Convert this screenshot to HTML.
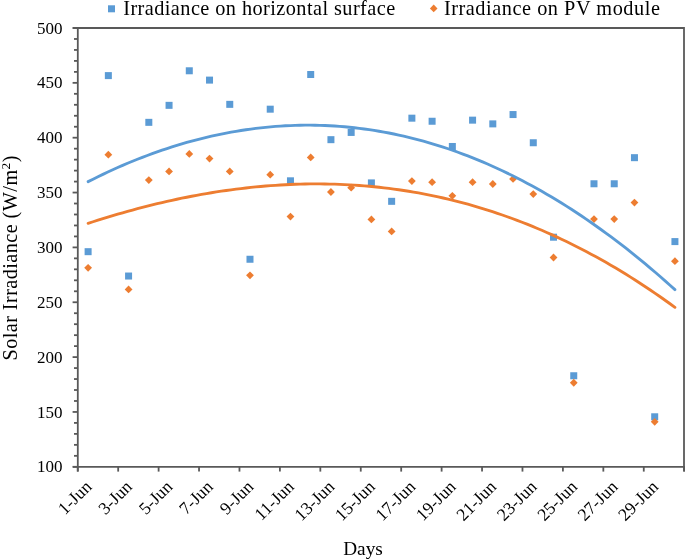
<!DOCTYPE html>
<html><head><meta charset="utf-8"><style>
html,body{margin:0;padding:0;background:#fff;}
body{width:685px;height:559px;overflow:hidden;}
svg{display:block;will-change:transform;}
.ax{stroke:#595959;stroke-width:1.8;}
text{font-family:"Liberation Serif", serif;fill:#000;}
.t16{font-size:17px;}
.t19{font-size:19.3px;}
.tl{font-size:20.3px;}
.tx{font-size:17.6px;}
</style></head><body>
<svg width="685" height="559" viewBox="0 0 685 559">
<line x1="72.60" y1="466.80" x2="77.8" y2="466.80" class="ax"/>
<line x1="74.00" y1="455.83" x2="77.8" y2="455.83" class="ax"/>
<line x1="74.00" y1="444.86" x2="77.8" y2="444.86" class="ax"/>
<line x1="74.00" y1="433.89" x2="77.8" y2="433.89" class="ax"/>
<line x1="74.00" y1="422.92" x2="77.8" y2="422.92" class="ax"/>
<line x1="72.60" y1="411.95" x2="77.8" y2="411.95" class="ax"/>
<line x1="74.00" y1="400.98" x2="77.8" y2="400.98" class="ax"/>
<line x1="74.00" y1="390.01" x2="77.8" y2="390.01" class="ax"/>
<line x1="74.00" y1="379.04" x2="77.8" y2="379.04" class="ax"/>
<line x1="74.00" y1="368.07" x2="77.8" y2="368.07" class="ax"/>
<line x1="72.60" y1="357.10" x2="77.8" y2="357.10" class="ax"/>
<line x1="74.00" y1="346.13" x2="77.8" y2="346.13" class="ax"/>
<line x1="74.00" y1="335.16" x2="77.8" y2="335.16" class="ax"/>
<line x1="74.00" y1="324.19" x2="77.8" y2="324.19" class="ax"/>
<line x1="74.00" y1="313.22" x2="77.8" y2="313.22" class="ax"/>
<line x1="72.60" y1="302.25" x2="77.8" y2="302.25" class="ax"/>
<line x1="74.00" y1="291.28" x2="77.8" y2="291.28" class="ax"/>
<line x1="74.00" y1="280.31" x2="77.8" y2="280.31" class="ax"/>
<line x1="74.00" y1="269.34" x2="77.8" y2="269.34" class="ax"/>
<line x1="74.00" y1="258.37" x2="77.8" y2="258.37" class="ax"/>
<line x1="72.60" y1="247.40" x2="77.8" y2="247.40" class="ax"/>
<line x1="74.00" y1="236.43" x2="77.8" y2="236.43" class="ax"/>
<line x1="74.00" y1="225.46" x2="77.8" y2="225.46" class="ax"/>
<line x1="74.00" y1="214.49" x2="77.8" y2="214.49" class="ax"/>
<line x1="74.00" y1="203.52" x2="77.8" y2="203.52" class="ax"/>
<line x1="72.60" y1="192.55" x2="77.8" y2="192.55" class="ax"/>
<line x1="74.00" y1="181.58" x2="77.8" y2="181.58" class="ax"/>
<line x1="74.00" y1="170.61" x2="77.8" y2="170.61" class="ax"/>
<line x1="74.00" y1="159.64" x2="77.8" y2="159.64" class="ax"/>
<line x1="74.00" y1="148.67" x2="77.8" y2="148.67" class="ax"/>
<line x1="72.60" y1="137.70" x2="77.8" y2="137.70" class="ax"/>
<line x1="74.00" y1="126.73" x2="77.8" y2="126.73" class="ax"/>
<line x1="74.00" y1="115.76" x2="77.8" y2="115.76" class="ax"/>
<line x1="74.00" y1="104.79" x2="77.8" y2="104.79" class="ax"/>
<line x1="74.00" y1="93.82" x2="77.8" y2="93.82" class="ax"/>
<line x1="72.60" y1="82.85" x2="77.8" y2="82.85" class="ax"/>
<line x1="74.00" y1="71.88" x2="77.8" y2="71.88" class="ax"/>
<line x1="74.00" y1="60.91" x2="77.8" y2="60.91" class="ax"/>
<line x1="74.00" y1="49.94" x2="77.8" y2="49.94" class="ax"/>
<line x1="74.00" y1="38.97" x2="77.8" y2="38.97" class="ax"/>
<line x1="72.60" y1="28.00" x2="77.8" y2="28.00" class="ax"/>
<line x1="77.75" y1="466.80" x2="77.75" y2="471.60" class="ax"/>
<line x1="118.18" y1="466.80" x2="118.18" y2="471.60" class="ax"/>
<line x1="158.61" y1="466.80" x2="158.61" y2="471.60" class="ax"/>
<line x1="199.04" y1="466.80" x2="199.04" y2="471.60" class="ax"/>
<line x1="239.47" y1="466.80" x2="239.47" y2="471.60" class="ax"/>
<line x1="279.90" y1="466.80" x2="279.90" y2="471.60" class="ax"/>
<line x1="320.33" y1="466.80" x2="320.33" y2="471.60" class="ax"/>
<line x1="360.76" y1="466.80" x2="360.76" y2="471.60" class="ax"/>
<line x1="401.19" y1="466.80" x2="401.19" y2="471.60" class="ax"/>
<line x1="441.62" y1="466.80" x2="441.62" y2="471.60" class="ax"/>
<line x1="482.05" y1="466.80" x2="482.05" y2="471.60" class="ax"/>
<line x1="522.48" y1="466.80" x2="522.48" y2="471.60" class="ax"/>
<line x1="562.91" y1="466.80" x2="562.91" y2="471.60" class="ax"/>
<line x1="603.34" y1="466.80" x2="603.34" y2="471.60" class="ax"/>
<line x1="643.77" y1="466.80" x2="643.77" y2="471.60" class="ax"/>
<line x1="684.20" y1="466.80" x2="684.20" y2="471.60" class="ax"/>
<line x1="72.80" y1="28.00" x2="684.00" y2="28.00" class="ax"/>
<line x1="77.8" y1="27.10" x2="77.8" y2="471.60" class="ax"/>
<line x1="684.00" y1="27.10" x2="684.00" y2="471.60" class="ax"/>
<line x1="72.80" y1="466.80" x2="684.90" y2="466.80" class="ax"/>
<rect x="84.61" y="248.18" width="7.0" height="7.0" fill="#5B9BD5"/>
<rect x="104.85" y="72.11" width="7.0" height="7.0" fill="#5B9BD5"/>
<rect x="125.08" y="272.53" width="7.0" height="7.0" fill="#5B9BD5"/>
<rect x="145.32" y="118.84" width="7.0" height="7.0" fill="#5B9BD5"/>
<rect x="165.56" y="101.84" width="7.0" height="7.0" fill="#5B9BD5"/>
<rect x="185.79" y="67.28" width="7.0" height="7.0" fill="#5B9BD5"/>
<rect x="206.02" y="76.61" width="7.0" height="7.0" fill="#5B9BD5"/>
<rect x="226.26" y="100.85" width="7.0" height="7.0" fill="#5B9BD5"/>
<rect x="246.49" y="255.75" width="7.0" height="7.0" fill="#5B9BD5"/>
<rect x="266.73" y="105.68" width="7.0" height="7.0" fill="#5B9BD5"/>
<rect x="286.97" y="177.31" width="7.0" height="7.0" fill="#5B9BD5"/>
<rect x="307.20" y="71.01" width="7.0" height="7.0" fill="#5B9BD5"/>
<rect x="327.43" y="136.17" width="7.0" height="7.0" fill="#5B9BD5"/>
<rect x="347.67" y="128.93" width="7.0" height="7.0" fill="#5B9BD5"/>
<rect x="367.90" y="179.40" width="7.0" height="7.0" fill="#5B9BD5"/>
<rect x="388.14" y="197.83" width="7.0" height="7.0" fill="#5B9BD5"/>
<rect x="408.38" y="114.67" width="7.0" height="7.0" fill="#5B9BD5"/>
<rect x="428.61" y="117.75" width="7.0" height="7.0" fill="#5B9BD5"/>
<rect x="448.85" y="142.98" width="7.0" height="7.0" fill="#5B9BD5"/>
<rect x="469.08" y="116.65" width="7.0" height="7.0" fill="#5B9BD5"/>
<rect x="489.31" y="120.38" width="7.0" height="7.0" fill="#5B9BD5"/>
<rect x="509.55" y="111.05" width="7.0" height="7.0" fill="#5B9BD5"/>
<rect x="529.78" y="139.25" width="7.0" height="7.0" fill="#5B9BD5"/>
<rect x="550.02" y="233.70" width="7.0" height="7.0" fill="#5B9BD5"/>
<rect x="570.25" y="372.25" width="7.0" height="7.0" fill="#5B9BD5"/>
<rect x="590.49" y="180.27" width="7.0" height="7.0" fill="#5B9BD5"/>
<rect x="610.73" y="180.27" width="7.0" height="7.0" fill="#5B9BD5"/>
<rect x="630.96" y="154.17" width="7.0" height="7.0" fill="#5B9BD5"/>
<rect x="651.20" y="413.28" width="7.0" height="7.0" fill="#5B9BD5"/>
<rect x="671.43" y="238.09" width="7.0" height="7.0" fill="#5B9BD5"/>
<path d="M88.11 263.90L92.02 267.80L88.11 271.70L84.21 267.80Z" fill="#ED7D31"/>
<path d="M108.35 150.80L112.25 154.70L108.35 158.60L104.45 154.70Z" fill="#ED7D31"/>
<path d="M128.58 285.52L132.48 289.42L128.58 293.32L124.68 289.42Z" fill="#ED7D31"/>
<path d="M148.82 176.14L152.72 180.04L148.82 183.94L144.92 180.04Z" fill="#ED7D31"/>
<path d="M169.06 167.48L172.96 171.38L169.06 175.28L165.16 171.38Z" fill="#ED7D31"/>
<path d="M189.29 150.04L193.19 153.94L189.29 157.84L185.39 153.94Z" fill="#ED7D31"/>
<path d="M209.52 154.64L213.42 158.54L209.52 162.44L205.62 158.54Z" fill="#ED7D31"/>
<path d="M229.76 167.48L233.66 171.38L229.76 175.28L225.86 171.38Z" fill="#ED7D31"/>
<path d="M249.99 271.47L253.89 275.37L249.99 279.27L246.09 275.37Z" fill="#ED7D31"/>
<path d="M270.23 170.77L274.13 174.67L270.23 178.57L266.33 174.67Z" fill="#ED7D31"/>
<path d="M290.47 212.67L294.37 216.57L290.47 220.47L286.57 216.57Z" fill="#ED7D31"/>
<path d="M310.70 153.55L314.60 157.45L310.70 161.35L306.80 157.45Z" fill="#ED7D31"/>
<path d="M330.93 188.10L334.83 192.00L330.93 195.90L327.03 192.00Z" fill="#ED7D31"/>
<path d="M351.17 183.82L355.07 187.72L351.17 191.62L347.27 187.72Z" fill="#ED7D31"/>
<path d="M371.40 215.53L375.30 219.43L371.40 223.33L367.50 219.43Z" fill="#ED7D31"/>
<path d="M391.64 227.48L395.54 231.38L391.64 235.28L387.74 231.38Z" fill="#ED7D31"/>
<path d="M411.88 177.13L415.77 181.03L411.88 184.93L407.98 181.03Z" fill="#ED7D31"/>
<path d="M432.11 178.23L436.01 182.13L432.11 186.03L428.21 182.13Z" fill="#ED7D31"/>
<path d="M452.35 191.94L456.25 195.84L452.35 199.74L448.45 195.84Z" fill="#ED7D31"/>
<path d="M472.58 178.23L476.48 182.13L472.58 186.03L468.68 182.13Z" fill="#ED7D31"/>
<path d="M492.81 180.09L496.71 183.99L492.81 187.89L488.91 183.99Z" fill="#ED7D31"/>
<path d="M513.05 175.05L516.95 178.95L513.05 182.85L509.15 178.95Z" fill="#ED7D31"/>
<path d="M533.28 190.19L537.18 194.09L533.28 197.99L529.38 194.09Z" fill="#ED7D31"/>
<path d="M553.52 253.59L557.42 257.49L553.52 261.39L549.62 257.49Z" fill="#ED7D31"/>
<path d="M573.75 378.87L577.65 382.77L573.75 386.67L569.86 382.77Z" fill="#ED7D31"/>
<path d="M593.99 215.20L597.89 219.10L593.99 223.00L590.09 219.10Z" fill="#ED7D31"/>
<path d="M614.23 215.20L618.12 219.10L614.23 223.00L610.33 219.10Z" fill="#ED7D31"/>
<path d="M634.46 198.63L638.36 202.53L634.46 206.43L630.56 202.53Z" fill="#ED7D31"/>
<path d="M654.70 417.92L658.60 421.82L654.70 425.72L650.80 421.82Z" fill="#ED7D31"/>
<path d="M674.93 257.32L678.83 261.22L674.93 265.12L671.03 261.22Z" fill="#ED7D31"/>
<polyline points="88.11,181.64 93.05,179.16 97.98,176.73 102.91,174.36 107.84,172.04 112.77,169.77 117.70,167.56 122.63,165.41 127.56,163.31 132.50,161.27 137.43,159.28 142.36,157.35 147.29,155.47 152.22,153.65 157.15,151.89 162.08,150.18 167.01,148.53 171.95,146.93 176.88,145.39 181.81,143.90 186.74,142.48 191.67,141.10 196.60,139.79 201.53,138.53 206.46,137.32 211.40,136.18 216.33,135.08 221.26,134.05 226.19,133.07 231.12,132.15 236.05,131.29 240.98,130.48 245.91,129.73 250.85,129.04 255.78,128.40 260.71,127.82 265.64,127.30 270.57,126.84 275.50,126.43 280.43,126.08 285.36,125.79 290.29,125.55 295.23,125.37 300.16,125.25 305.09,125.19 310.02,125.19 314.95,125.24 319.88,125.35 324.81,125.52 329.74,125.75 334.68,126.03 339.61,126.38 344.54,126.78 349.47,127.24 354.40,127.76 359.33,128.33 364.26,128.97 369.19,129.66 374.13,130.41 379.06,131.23 383.99,132.10 388.92,133.02 393.85,134.01 398.78,135.06 403.71,136.16 408.64,137.33 413.58,138.55 418.51,139.83 423.44,141.17 428.37,142.58 433.30,144.04 438.23,145.56 443.16,147.13 448.09,148.77 453.03,150.47 457.96,152.23 462.89,154.05 467.82,155.93 472.75,157.86 477.68,159.86 482.61,161.92 487.54,164.04 492.47,166.22 497.41,168.45 502.34,170.75 507.27,173.11 512.20,175.53 517.13,178.01 522.06,180.55 526.99,183.15 531.92,185.81 536.86,188.53 541.79,191.32 546.72,194.16 551.65,197.07 556.58,200.03 561.51,203.06 566.44,206.15 571.37,209.29 576.31,212.50 581.24,215.78 586.17,219.11 591.10,222.50 596.03,225.96 600.96,229.48 605.89,233.06 610.82,236.70 615.76,240.40 620.69,244.16 625.62,247.99 630.55,251.88 635.48,255.83 640.41,259.84 645.34,263.92 650.27,268.05 655.21,272.25 660.14,276.51 665.07,280.84 670.00,285.22 674.93,289.67" fill="none" stroke="#5B9BD5" stroke-width="2.85" stroke-linecap="round" stroke-linejoin="round"/>
<polyline points="88.11,223.35 93.05,221.75 97.98,220.18 102.91,218.64 107.84,217.13 112.77,215.65 117.70,214.20 122.63,212.79 127.56,211.40 132.50,210.04 137.43,208.72 142.36,207.42 147.29,206.16 152.22,204.93 157.15,203.73 162.08,202.56 167.01,201.43 171.95,200.33 176.88,199.26 181.81,198.23 186.74,197.23 191.67,196.27 196.60,195.33 201.53,194.44 206.46,193.58 211.40,192.75 216.33,191.96 221.26,191.20 226.19,190.48 231.12,189.79 236.05,189.15 240.98,188.54 245.91,187.96 250.85,187.42 255.78,186.92 260.71,186.46 265.64,186.03 270.57,185.65 275.50,185.30 280.43,184.99 285.36,184.71 290.29,184.48 295.23,184.29 300.16,184.13 305.09,184.02 310.02,183.95 314.95,183.91 319.88,183.92 324.81,183.97 329.74,184.06 334.68,184.19 339.61,184.36 344.54,184.57 349.47,184.83 354.40,185.13 359.33,185.47 364.26,185.85 369.19,186.28 374.13,186.75 379.06,187.26 383.99,187.82 388.92,188.42 393.85,189.06 398.78,189.75 403.71,190.49 408.64,191.27 413.58,192.09 418.51,192.96 423.44,193.88 428.37,194.84 433.30,195.85 438.23,196.91 443.16,198.01 448.09,199.16 453.03,200.36 457.96,201.60 462.89,202.90 467.82,204.24 472.75,205.63 477.68,207.07 482.61,208.55 487.54,210.09 492.47,211.67 497.41,213.31 502.34,214.99 507.27,216.73 512.20,218.51 517.13,220.35 522.06,222.24 526.99,224.17 531.92,226.16 536.86,228.21 541.79,230.30 546.72,232.44 551.65,234.64 556.58,236.89 561.51,239.20 566.44,241.55 571.37,243.96 576.31,246.42 581.24,248.94 586.17,251.51 591.10,254.14 596.03,256.82 600.96,259.56 605.89,262.35 610.82,265.19 615.76,268.10 620.69,271.05 625.62,274.07 630.55,277.14 635.48,280.27 640.41,283.45 645.34,286.69 650.27,289.99 655.21,293.35 660.14,296.76 665.07,300.23 670.00,303.77 674.93,307.36" fill="none" stroke="#ED7D31" stroke-width="2.85" stroke-linecap="round" stroke-linejoin="round"/>
<text x="62.6" y="472.40" text-anchor="end" class="t16">100</text>
<text x="62.6" y="417.55" text-anchor="end" class="t16">150</text>
<text x="62.6" y="362.70" text-anchor="end" class="t16">200</text>
<text x="62.6" y="307.85" text-anchor="end" class="t16">250</text>
<text x="62.6" y="253.00" text-anchor="end" class="t16">300</text>
<text x="62.6" y="198.15" text-anchor="end" class="t16">350</text>
<text x="62.6" y="143.30" text-anchor="end" class="t16">400</text>
<text x="62.6" y="88.45" text-anchor="end" class="t16">450</text>
<text x="62.6" y="33.60" text-anchor="end" class="t16">500</text>
<text transform="translate(92.61,487.80) rotate(-45)" text-anchor="end" class="tx">1-Jun</text>
<text transform="translate(133.08,487.80) rotate(-45)" text-anchor="end" class="tx">3-Jun</text>
<text transform="translate(173.56,487.80) rotate(-45)" text-anchor="end" class="tx">5-Jun</text>
<text transform="translate(214.02,487.80) rotate(-45)" text-anchor="end" class="tx">7-Jun</text>
<text transform="translate(254.49,487.80) rotate(-45)" text-anchor="end" class="tx">9-Jun</text>
<text transform="translate(294.97,487.80) rotate(-45)" text-anchor="end" class="tx">11-Jun</text>
<text transform="translate(335.43,487.80) rotate(-45)" text-anchor="end" class="tx">13-Jun</text>
<text transform="translate(375.90,487.80) rotate(-45)" text-anchor="end" class="tx">15-Jun</text>
<text transform="translate(416.38,487.80) rotate(-45)" text-anchor="end" class="tx">17-Jun</text>
<text transform="translate(456.85,487.80) rotate(-45)" text-anchor="end" class="tx">19-Jun</text>
<text transform="translate(497.31,487.80) rotate(-45)" text-anchor="end" class="tx">21-Jun</text>
<text transform="translate(537.78,487.80) rotate(-45)" text-anchor="end" class="tx">23-Jun</text>
<text transform="translate(578.25,487.80) rotate(-45)" text-anchor="end" class="tx">25-Jun</text>
<text transform="translate(618.73,487.80) rotate(-45)" text-anchor="end" class="tx">27-Jun</text>
<text transform="translate(659.20,487.80) rotate(-45)" text-anchor="end" class="tx">29-Jun</text>
<text x="363" y="555" text-anchor="middle" class="t19">Days</text>
<text transform="translate(17.0,360.5) rotate(-90)" class="tl" textLength="205" lengthAdjust="spacing">Solar Irradiance (W/m<tspan dy="-7.5" font-size="13.5">2</tspan><tspan dy="7.5">)</tspan></text>
<rect x="108" y="5.3" width="7" height="7" fill="#5B9BD5"/>
<text x="123.2" y="14.8" class="tl" textLength="272" lengthAdjust="spacing">Irradiance on horizontal surface</text>
<path d="M433.7 4.6000000000000005L437.5 8.4L433.7 12.2L429.9 8.4Z" fill="#ED7D31"/>
<text x="443.9" y="14.8" class="tl" textLength="216" lengthAdjust="spacing">Irradiance on PV module</text>
</svg>
</body></html>
